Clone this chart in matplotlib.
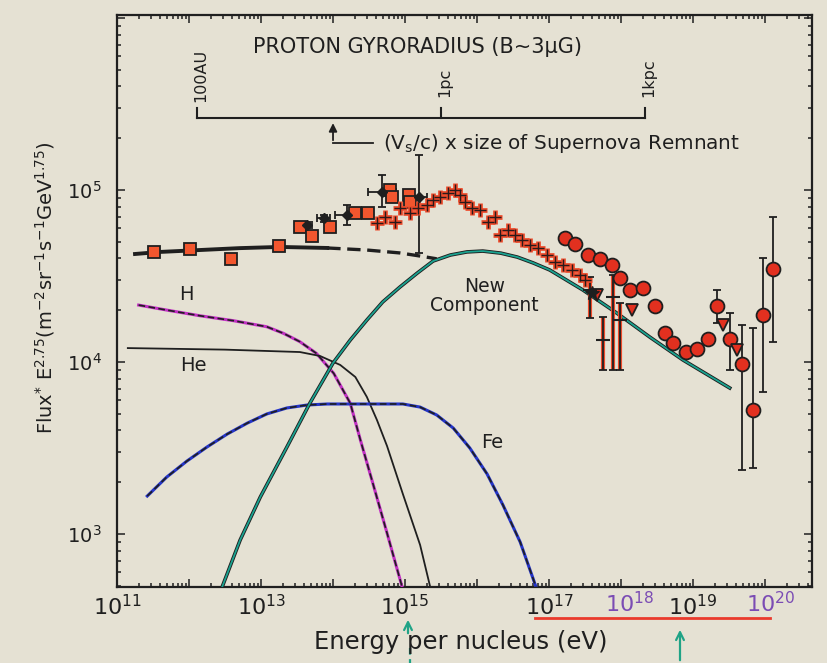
import numpy as np
import matplotlib
matplotlib.use('Agg')
import matplotlib.pyplot as plt
from matplotlib.ticker import LogLocator, FuncFormatter, NullFormatter
from matplotlib.lines import Line2D

plt.rcParams.update({
    'font.family': 'DejaVu Sans',
    'mathtext.fontset': 'dejavusans',
})

PAPER = '#e5e1d3'
INK = '#1f1f1f'

# ── model curves: log10(E / eV) and log10(Flux * E^2.75) ─────────────────────
total_logE = [11.25, 11.60, 12.15, 12.70, 13.26, 13.92]
total_logF = [4.628, 4.640, 4.651, 4.662, 4.669, 4.663]
total_dash_logE = [13.92, 14.47, 14.93, 15.21, 15.44]
total_dash_logF = [4.663, 4.651, 4.634, 4.616, 4.600]

h_logE = [11.30, 11.69, 12.15, 12.62, 13.08, 13.31, 13.54, 13.77, 14.01, 14.24,
          14.38, 14.56, 14.75, 14.96]
h_logF = [4.331, 4.302, 4.269, 4.240, 4.205, 4.167, 4.118, 4.050, 3.934, 3.760,
          3.547, 3.285, 3.006, 2.692]

he_logE = [11.15, 12.50, 13.54, 13.82, 14.10, 14.31, 14.47, 14.61, 14.75, 14.97,
           15.21, 15.35]
he_logF = [4.081, 4.072, 4.058, 4.035, 3.983, 3.913, 3.797, 3.663, 3.512, 3.233,
           2.936, 2.692]

fe_logE = [11.42, 11.69, 11.97, 12.25, 12.53, 12.81, 13.08, 13.36, 13.64, 13.92,
           14.97, 15.21, 15.44, 15.67, 15.90, 16.14, 16.36, 16.60, 16.82]
fe_logF = [3.221, 3.331, 3.424, 3.506, 3.581, 3.645, 3.698, 3.733, 3.750, 3.756,
           3.756, 3.738, 3.692, 3.616, 3.500, 3.349, 3.169, 2.953, 2.692]

new_logE = [12.46, 12.71, 12.99, 13.36, 13.68, 14.00, 14.24, 14.47, 14.69, 14.93,
            15.17, 15.39, 15.63, 15.86, 16.08, 16.33, 16.56, 16.78, 17.01, 17.47,
            17.94, 18.40, 18.86, 19.51]
new_logF = [2.692, 2.965, 3.215, 3.506, 3.762, 3.994, 4.128, 4.244, 4.349, 4.436,
            4.517, 4.587, 4.622, 4.640, 4.645, 4.633, 4.610, 4.576, 4.535, 4.419,
            4.285, 4.145, 4.012, 3.849]

# ── measurements ─────────────────────────────────────────────────────────────
sq_logE = [11.51, 12.01, 12.59, 13.25, 13.54, 13.71, 13.96, 14.31, 14.49, 14.79, 14.82, 15.05, 15.07]
sq_logF = [4.641, 4.657, 4.599, 4.674, 4.787, 4.733, 4.787, 4.864, 4.868, 5.000, 4.961, 4.971, 4.930]

dia_logE = [13.64, 13.87, 14.19, 14.68, 15.19]
dia_logF = [4.797, 4.835, 4.855, 4.990, 4.957]
dia_lo = [4.780, 4.815, 4.795, 4.900, 4.634]
dia_hi = [4.815, 4.855, 4.910, 5.090, 5.203]
dia_dx = [0.07, 0.09, 0.16, 0.19, 0.12]

cross_logE = [14.61, 14.72, 14.86, 14.93, 15.07, 15.18, 15.31, 15.39, 15.49, 15.60,
              15.69, 15.76, 15.83, 15.93, 16.04, 16.15, 16.25, 16.32, 16.43, 16.53,
              16.63, 16.74, 16.85, 16.97, 17.08, 17.19, 17.32, 17.43, 17.50]
cross_logF = [4.808, 4.843, 4.814, 4.895, 4.866, 4.895, 4.913, 4.942, 4.959, 4.983,
              5.000, 4.971, 4.930, 4.895, 4.884, 4.814, 4.843, 4.738, 4.767, 4.738,
              4.709, 4.680, 4.663, 4.622, 4.581, 4.564, 4.535, 4.506, 4.477]

circ_logE = [17.22, 17.36, 17.54, 17.71, 17.88, 17.99, 18.13, 18.31, 18.47, 18.61,
             18.72, 18.90, 19.06, 19.21]
circ_logF = [4.721, 4.686, 4.622, 4.599, 4.564, 4.488, 4.419, 4.430, 4.326, 4.169,
             4.110, 4.058, 4.076, 4.134]

circ_err_logE = [19.33, 19.51, 19.68, 19.83, 19.97, 20.11]
circ_err_logF = [4.326, 4.134, 3.988, 3.721, 4.273, 4.541]
circ_err_lo = [4.227, 3.953, 3.372, 3.384, 3.826, 4.116]
circ_err_hi = [4.419, 4.285, 4.215, 4.198, 4.605, 4.843]

tri_logE = [17.67, 18.15, 19.42, 19.61]
tri_logF = [4.390, 4.302, 4.215, 4.070]

pcross_logE = [17.57, 17.75, 17.89, 17.99]
pcross_logF = [4.419, 4.128, 4.378, 4.244]
pcross_lo = [4.256, 3.953, 3.953, 3.953]
pcross_hi = [4.494, 4.262, 4.506, 4.343]

star_logE = [17.60]
star_logF = [4.401]

# gyroradius scale marks
gyro_labels = ['100AU', '1pc', '1kpc']
gyro_logE = [12.11, 15.50, 18.33]
gyro_label_logF = [5.51, 5.54, 5.54]


def p10(a):
    return 10.0 ** np.asarray(a, dtype=float)


fig = plt.figure(figsize=(8.27, 6.63), dpi=100, facecolor=PAPER)
ax = fig.add_axes([0.1415, 0.1146, 0.8404, 0.8627], facecolor=PAPER)
ax.set_xscale('log')
ax.set_yscale('log')
ax.set_xlim(1e11, 4.5e20)
ax.set_ylim(492, 1.04e6)

# component curves
ax.plot(p10(h_logE), p10(h_logF), color='#c22fc4', lw=2.2, zorder=3)
ax.plot(p10(h_logE), p10(h_logF), color=INK, lw=1.2, ls=(0, (4, 2)), zorder=4)
ax.plot(p10(he_logE), p10(he_logF), color=INK, lw=1.3, zorder=3)
ax.plot(p10(fe_logE), p10(fe_logF), color='#2434c8', lw=2.2, zorder=3)
ax.plot(p10(fe_logE), p10(fe_logF), color=INK, lw=1.2, ls=(0, (4, 2)), zorder=4)
ax.plot(p10(new_logE), p10(new_logF), color=INK, lw=2.6, zorder=3)
ax.plot(p10(new_logE), p10(new_logF), color='#1aa390', lw=1.3, zorder=4)
ax.plot(p10(total_logE), p10(total_logF), color=INK, lw=2.8, zorder=3)
ax.plot(p10(total_dash_logE), p10(total_dash_logF), color=INK, lw=2.4,
        ls=(0, (4, 2)), zorder=3)

# data
ebar = dict(fmt='none', ecolor=INK, elinewidth=1.3, capsize=3, capthick=1.3, zorder=5)
dE = np.asarray(dia_dx)
ax.errorbar(p10(dia_logE), p10(dia_logF),
            yerr=[p10(dia_logF) - p10(dia_lo), p10(dia_hi) - p10(dia_logF)],
            xerr=[p10(dia_logE) - p10(np.asarray(dia_logE) - dE),
                  p10(np.asarray(dia_logE) + dE) - p10(dia_logE)], **ebar)
ax.errorbar(p10(circ_err_logE), p10(circ_err_logF),
            yerr=[p10(circ_err_logF) - p10(circ_err_lo), p10(circ_err_hi) - p10(circ_err_logF)], **ebar)
ax.errorbar(p10(pcross_logE), p10(pcross_logF),
            yerr=[p10(pcross_logF) - p10(pcross_lo), p10(pcross_hi) - p10(pcross_logF)],
            fmt='none', ecolor='#ee4a2a', elinewidth=3.0, capsize=0, zorder=5)
ax.errorbar(p10(pcross_logE), p10(pcross_logF),
            yerr=[p10(pcross_logF) - p10(pcross_lo), p10(pcross_hi) - p10(pcross_logF)], **ebar)

ax.plot(p10(sq_logE), p10(sq_logF), 's', ms=9, mfc='#f2562e', mec=INK, mew=1.3, zorder=6)
ax.plot(p10(dia_logE), p10(dia_logF), 'D', ms=5, mfc=INK, mec=INK, zorder=7)
ax.plot(p10(cross_logE), p10(cross_logF), '+', ms=10, mec='#ee4a2a', mew=3.4, zorder=6)
ax.plot(p10(cross_logE), p10(cross_logF), '+', ms=8, mec='#2a1a1a', mew=1.0, zorder=7)
ax.plot(p10(pcross_logE), p10(pcross_logF), '_', ms=10, mec=INK, mew=1.5, zorder=7)
ax.plot(p10(circ_logE), p10(circ_logF), 'o', ms=10, mfc='#e2301f', mec=INK, mew=1.3, zorder=6)
ax.plot(p10(circ_err_logE), p10(circ_err_logF), 'o', ms=10, mfc='#e2301f', mec=INK, mew=1.3, zorder=6)
ax.plot(p10(tri_logE), p10(tri_logF), 'v', ms=9, mfc='#e2301f', mec=INK, mew=1.3, zorder=6)
ax.plot(p10(star_logE), p10(star_logF), '*', ms=10, mfc=INK, mec=INK, zorder=7)

# curve labels
ax.text(p10(11.97), p10(4.39), 'H', fontsize=14, ha='center', va='center', color=INK)
ax.text(p10(12.06), p10(3.977), 'He', fontsize=14, ha='center', va='center', color=INK)
ax.text(p10(16.21), p10(3.53), 'Fe', fontsize=14, ha='center', va='center', color=INK)
ax.text(p10(16.10), p10(4.384), 'New\nComponent', fontsize=13.5, ha='center', va='center',
        linespacing=1.0, color=INK)

# proton gyroradius scale
bar_y, tick_y = p10(5.419), p10(5.477)
ax.plot(p10([gyro_logE[0], gyro_logE[-1]]), [bar_y, bar_y], color=INK, lw=1.5)
for lab, le, lf in zip(gyro_labels, gyro_logE, gyro_label_logF):
    ax.plot(p10([le, le]), [bar_y, tick_y], color=INK, lw=1.5)
    ax.text(p10(le + 0.05), p10(lf), lab, rotation=90, fontsize=11.5, ha='center', va='bottom',
            color=INK)
ax.text(p10(15.18), p10(5.831), u'PROTON GYRORADIUS (B~3\u00b5G)', fontsize=15,
        ha='center', va='center', color=INK)
ax.annotate('', xy=(p10(14.0), p10(5.405)), xytext=(p10(14.0), p10(5.273)),
            arrowprops=dict(arrowstyle='-|>', color=INK, lw=1.3, mutation_scale=12))
ax.plot(p10([14.0, 14.56]), p10([5.273, 5.273]), color=INK, lw=1.3)
ax.text(p10(14.69), p10(5.273), r'(V$_{\rm s}$/c) x size of Supernova Remnant', fontsize=14.4,
        ha='left', va='center', color=INK)

# axes styling
ax.xaxis.set_major_locator(LogLocator(base=10, numticks=20))
ax.xaxis.set_minor_locator(LogLocator(base=10, subs=np.arange(2, 10), numticks=20))
ax.yaxis.set_major_locator(LogLocator(base=10, numticks=20))
ax.yaxis.set_minor_locator(LogLocator(base=10, subs=np.arange(2, 10), numticks=20))


def xfmt(v, pos):
    n = int(round(np.log10(v)))
    return r'$10^{%d}$' % n if n in (11, 13, 15, 17, 19) else ''


def yfmt(v, pos):
    n = int(round(np.log10(v)))
    return r'$10^{%d}$' % n if n in (3, 4, 5) else ''


ax.xaxis.set_major_formatter(FuncFormatter(xfmt))
ax.xaxis.set_minor_formatter(NullFormatter())
ax.yaxis.set_major_formatter(FuncFormatter(yfmt))
ax.yaxis.set_minor_formatter(NullFormatter())
ax.tick_params(which='both', direction='in', top=True, right=True, color=INK, width=1.1)
ax.tick_params(which='major', length=6)
ax.tick_params(which='minor', length=3)
ax.tick_params(axis='x', which='major', labelsize=16, pad=5, labelcolor=INK)
ax.tick_params(axis='y', which='major', labelsize=14, pad=11, labelcolor=INK)
for s in ax.spines.values():
    s.set_linewidth(1.6)
    s.set_color(INK)

fig.text(461 / 827, 1 - 642 / 663, 'Energy per nucleus (eV)', fontsize=17.5, ha='center',
         va='center', color=INK)
fig.text(45 / 827, 1 - 288 / 663,
         r'Flux$^{*}$ E$^{2.75}$(m$^{-2}$sr$^{-1}$s$^{-1}$GeV$^{1.75}$)',
         fontsize=14, rotation=90, ha='center', va='center', color=INK)

# pen marks below the energy axis
fig.text(630 / 827, 1 - 604 / 663, r'$10^{18}$', fontsize=16, ha='center', va='center',
         color='#7b4cb4')
fig.text(771 / 827, 1 - 604 / 663, r'$10^{20}$', fontsize=16, ha='center', va='center',
         color='#7b4cb4')
fig.add_artist(Line2D([535 / 827, 770 / 827], [1 - 618 / 663, 1 - 618 / 663],
                      color='#ea3a2c', lw=2.0, transform=fig.transFigure))
for xa, y0, y1 in [(408, 636, 617), (680, 663, 627)]:
    fig.add_artist(matplotlib.patches.FancyArrowPatch(
        (xa / 827, 1 - y0 / 663), (xa / 827, 1 - y1 / 663), transform=fig.transFigure,
        arrowstyle='->', mutation_scale=14, color='#1fa386', lw=1.6))
fig.add_artist(Line2D([410 / 827, 410 / 827], [1 - 648 / 663, 0.0], color='#1fa386', lw=1.6,
                      ls=(0, (3, 2)), transform=fig.transFigure))

fig.savefig('out.png', dpi=100, facecolor=PAPER)
